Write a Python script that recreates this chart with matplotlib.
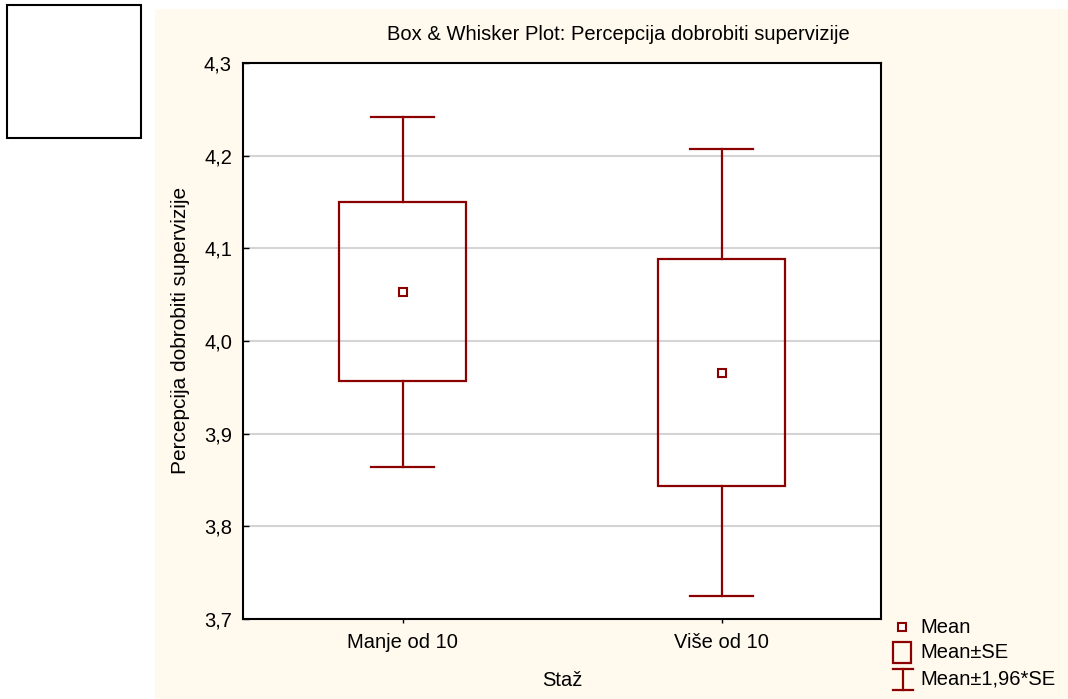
import matplotlib
matplotlib.use("Agg")
import matplotlib.pyplot as plt
from matplotlib.patches import Rectangle
from matplotlib.ticker import FuncFormatter
import numpy as np

groups = ["Manje od 10", "Više od 10"]
means = [4.053, 3.966]
se = [0.0965, 0.1230]
ci_mult = 1.96
yticks = [3.7, 3.8, 3.9, 4.0, 4.1, 4.2, 4.3]

RED = "#8B0000"
CREAM = "#FFF9EE"
W, H = 1068, 699

plt.rcParams["font.family"] = ["Liberation Sans", "DejaVu Sans"]
plt.rcParams["font.size"] = 14.5

fig = plt.figure(figsize=(W / 100, H / 100), dpi=100)
fig.patch.set_facecolor("white")

# cream panel + empty white box top-left
fig.add_artist(Rectangle((155 / W, 0), (W - 155) / W, (H - 9) / H,
                         transform=fig.transFigure, facecolor=CREAM, edgecolor="none", zorder=-2))
fig.add_artist(Rectangle((7 / W, (H - 138) / H), 134 / W, 133 / H,
                         transform=fig.transFigure, facecolor="white", edgecolor="black",
                         linewidth=1.5, zorder=-1))

ax = fig.add_axes([243 / W, (H - 619) / H, 638 / W, 556 / H])
ax.set_facecolor("white")
ax.set_xlim(-0.5, 1.5)
ax.set_ylim(3.7, 4.3)
ax.set_yticks(yticks)
ax.yaxis.set_major_formatter(FuncFormatter(lambda v, p: f"{v:.1f}".replace(".", ",")))
ax.set_xticks(range(len(groups)))
ax.set_xticklabels(groups)
ax.grid(axis="y", color="#d4d4d4", linewidth=1.5)
ax.set_axisbelow(True)
for s in ax.spines.values():
    s.set_linewidth(1.5)
ax.tick_params(axis="y", direction="in", length=4, width=1, pad=8)
ax.tick_params(axis="x", direction="out", length=3, width=1, pad=7)

bw, cw = 0.4, 0.2
for i, (m, s) in enumerate(zip(means, se)):
    ax.add_patch(Rectangle((i - bw / 2, m - s), bw, 2 * s, facecolor="none",
                           edgecolor=RED, linewidth=1.6, zorder=3))
    lo, hi = m - ci_mult * s, m + ci_mult * s
    ax.plot([i, i], [m + s, hi], color=RED, lw=1.6, zorder=3)
    ax.plot([i, i], [lo, m - s], color=RED, lw=1.6, zorder=3)
    ax.plot([i - cw / 2, i + cw / 2], [hi, hi], color=RED, lw=1.6, zorder=3)
    ax.plot([i - cw / 2, i + cw / 2], [lo, lo], color=RED, lw=1.6, zorder=3)
    ax.plot(i, m, "s", ms=6, mfc="white", mec=RED, mew=1.5, zorder=4)

fig.text(180 / W, 1 - 330 / H, "Percepcija dobrobiti supervizije", rotation=90,
         ha="center", va="center", fontsize=15)
fig.text(562 / W, 1 - 680 / H, "Staž", ha="center", va="center")
fig.text(618 / W, 1 - 35 / H, "Box & Whisker Plot: Percepcija dobrobiti supervizije",
         ha="center", va="center")

# legend drawn in pixel coords
lg = fig.add_axes([885 / W, 0, (W - 885) / W, 85 / H])
lg.set_xlim(885, W)
lg.set_ylim(H, H - 85)
lg.axis("off")
lg.plot(902, 627, "s", ms=6, mfc="white", mec=RED, mew=1.5)
lg.add_patch(Rectangle((893, 642), 18, 21, facecolor="none", edgecolor=RED, lw=1.6))
lg.plot([903, 903], [669, 690], color=RED, lw=1.6)
lg.plot([893, 913], [669, 669], color=RED, lw=1.6)
lg.plot([893, 913], [690, 690], color=RED, lw=1.6)
for y, t in [(627, "Mean"), (652, "Mean±SE"), (679, "Mean±1,96*SE")]:
    lg.text(920, y, t, ha="left", va="center")

fig.savefig("out.png", dpi=100)
